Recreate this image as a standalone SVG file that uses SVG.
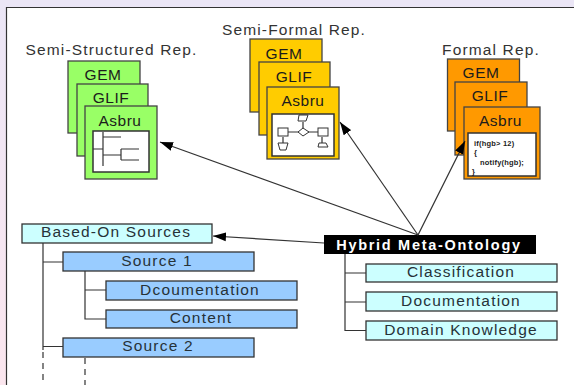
<svg xmlns="http://www.w3.org/2000/svg" width="574" height="385" viewBox="0 0 574 385">
<defs>
<linearGradient id="bg" x1="0" y1="0" x2="0" y2="1"><stop offset="0" stop-color="#ebe6f6"/><stop offset="1" stop-color="#fbe6ee"/></linearGradient>
<marker id="arr" markerUnits="userSpaceOnUse" markerWidth="14" markerHeight="10" refX="13" refY="5" orient="auto"><path d="M0 .5L13 5L0 9.500Z" fill="#000"/></marker>
</defs>
<style>
text{font-family:"Liberation Sans",Arial,sans-serif;fill:#222;text-anchor:middle}
.lab{font-size:15.500px;letter-spacing:1.150px;fill:#333}
.c{font-size:15.500px;letter-spacing:.5px;fill:#1c1c1c}
.n{font-size:15.500px;letter-spacing:1.200px;fill:#263238}
.g{fill:#99ff66;stroke:#444;stroke-width:1.3}
.y{fill:#ffcc00;stroke:#444;stroke-width:1.3}
.o{fill:#ff9900;stroke:#444;stroke-width:1.3}
.w{fill:#fff;stroke:#333;stroke-width:1.5}
.t{fill:#ccffff;stroke:#333;stroke-width:1.3}
.b{fill:#99ccff;stroke:#333;stroke-width:1.3}
.l{fill:none;stroke:#333;stroke-width:1.2}
.s{fill:#fff;stroke:#333;stroke-width:1}
.d{stroke-dasharray:6 5}
.code{font-size:7.500px;font-weight:bold;text-anchor:start;fill:#222;letter-spacing:.2px}
</style>
<rect width="574" height="385" fill="#fff"/>
<path d="M0 0H574V7H7V385H0Z" fill="url(#bg)"/>
<path d="M6.500 385V7.500H574" fill="none" stroke="#333" stroke-width="1.200"/>
<text class="lab" x="111.500" y="55">Semi-Structured Rep.</text>
<text class="lab" x="294" y="35">Semi-Formal Rep.</text>
<text class="lab" x="491" y="55">Formal Rep.</text>
<g id="semi-structured-gem"><rect class="g" x="68" y="61" width="72" height="72"/><text class="c" x="103" y="80">GEM</text></g>
<g id="semi-structured-glif"><rect class="g" x="77" y="84" width="71" height="72"/><text class="c" x="111" y="103">GLIF</text></g>
<g id="semi-structured-asbru"><rect class="g" x="85" y="106" width="72" height="73"/><text class="c" x="120" y="126">Asbru</text><rect class="w" x="93" y="131" width="56" height="41"/>
<path class="l" d="M103 132V166M103 137H121M93 149H103M103 155H121M121 149V160M121 149H139M121 160H139"/></g>
<g id="semi-formal-gem"><rect class="y" x="250" y="39" width="72" height="73"/><text class="c" x="284" y="59">GEM</text></g>
<g id="semi-formal-glif"><rect class="y" x="259" y="62" width="71" height="73"/><text class="c" x="294" y="82">GLIF</text></g>
<g id="semi-formal-asbru"><rect class="y" x="267" y="87" width="72" height="72"/><text class="c" x="303" y="106">Asbru</text><rect class="w" x="272" y="114" width="62" height="42"/>
<path class="l" d="M288 132H322M303 122V132M283 137V143M322 137V143"/>
<path class="s" d="M299 115H308L306 121H298Z"/><path class="s" d="M303 128L309 132L303 136L298 132Z"/>
<rect class="s" x="278" y="128" width="10" height="8"/><path class="s" d="M278 143H288L286 150H280Z"/>
<rect class="s" x="318" y="128" width="10" height="8"/><path class="s" d="M319 143H326L328 147H318Z"/></g>
<g id="formal-gem"><rect class="o" x="447.500" y="59" width="72" height="72"/><text class="c" x="481" y="78">GEM</text></g>
<g id="formal-glif"><rect class="o" x="455" y="82" width="72" height="73"/><text class="c" x="490" y="101">GLIF</text></g>
<g id="formal-asbru"><rect class="o" x="464" y="107" width="76" height="72"/><text class="c" x="500.500" y="126">Asbru</text><rect class="w" x="468" y="133" width="68" height="43"/>
<text class="code" x="474" y="146">if(hgb&gt; 12)</text><text class="code" x="474" y="155">{</text><text class="code" x="480" y="165">notify(hgb);</text><text class="code" x="472" y="174">}</text></g>
<g id="based-on"><rect class="t" x="22" y="224" width="190" height="19"/><text class="n" x="116" y="237">Based-On Sources</text></g>
<g id="source-1"><rect class="b" x="63" y="252" width="191" height="19"/><text class="n" x="157" y="266">Source 1</text></g>
<g id="dcoumentation"><rect class="b" x="106" y="281" width="191" height="19"/><text class="n" x="200" y="295">Dcoumentation</text></g>
<g id="content"><rect class="b" x="106" y="310" width="191" height="18"/><text class="n" x="201" y="323">Content</text></g>
<g id="source-2"><rect class="b" x="63" y="338" width="191" height="19"/><text class="n" x="158" y="351">Source 2</text></g>
<g id="hybrid"><rect x="324" y="235" width="212" height="19" fill="#000"/><text x="429" y="250" font-size="14.500" font-weight="bold" letter-spacing="1.700" style="fill:#fff">Hybrid Meta-Ontology</text></g>
<g id="classification"><rect class="t" x="366" y="264" width="191" height="18"/><text class="n" x="461" y="277">Classification</text></g>
<g id="documentation"><rect class="t" x="366" y="292" width="191" height="19"/><text class="n" x="461" y="306">Documentation</text></g>
<g id="domain-knowledge"><rect class="t" x="366" y="321" width="191" height="19"/><text class="n" x="461" y="335">Domain Knowledge</text></g>
<g id="connectors">
<path class="l" d="M43 243V350M43 262H63M43 346.500H63"/>
<path class="l d" d="M43 352V385M85 358V385"/>
<path class="l" d="M85 271V319H106M85 290H106"/>
<path class="l" d="M345 254V330.500H366M345 273H366M345 302H366"/>
<path class="l" d="M418 235L160 142" marker-end="url(#arr)"/>
<path class="l" d="M418 235L340 122" marker-end="url(#arr)"/>
<path class="l" d="M418 235L465 141" marker-end="url(#arr)"/>
<path class="l" d="M324 243L213 236" marker-end="url(#arr)"/>
</g>
</svg>
